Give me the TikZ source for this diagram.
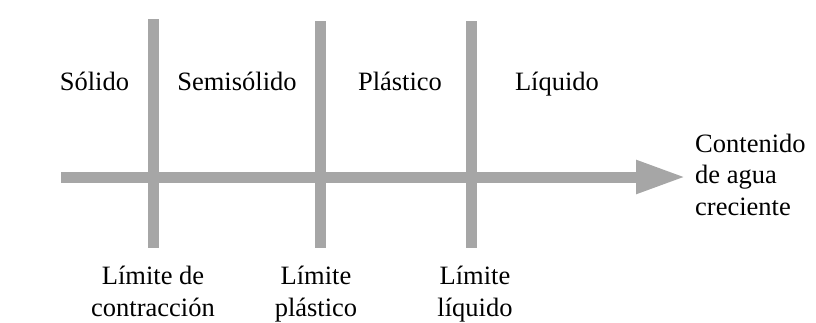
\documentclass[tikz,border=0pt]{standalone}
\usepackage{fontspec}
\setmainfont{Liberation Serif}
\usetikzlibrary{arrows.meta}
\tikzset{
  zone/.style={font=\fontsize{26.5}{31.5}\selectfont, anchor=base, inner sep=0pt},
  limit/.style={zone, align=center},
  bar/.style={draw=black!35, line width=11pt},
}

\begin{document}
\begin{tikzpicture}[x=1pt,y=-1pt]
\useasboundingbox (0,0) rectangle (816,322);
% limits between states
\coordinate (contrtop) at (153,19);
\coordinate (contrbot) at (153,248);
\coordinate (plasttop) at (320,21);
\coordinate (plastbot) at (320,248);
\coordinate (liqtop) at (471,21);
\coordinate (liqbot) at (471,248);
\draw[bar] (contrtop) -- (contrbot);
\draw[bar] (plasttop) -- (plastbot);
\draw[bar] (liqtop) -- (liqbot);
% water content axis
\coordinate (axstart) at (61,177);
\coordinate (axend) at (686,177);
\draw[bar, -{Triangle[length=50pt,width=31pt]}] (axstart) -- (axend);
% states
\node[zone] (solido) at (94.5,90) {Sólido};
\node[zone] (semisolido) at (237,90) {Semisólido};
\node[zone] (plastico) at (400,90) {Plástico};
\node[zone] (liquido) at (557,90) {Líquido};
% limit names (base = last line)
\node[limit] (lcontr) at (153,316) {Límite de\\contracción};
\node[limit] (lplast) at (316,316) {Límite\\plástico};
\node[limit] (lliq) at (475,316) {Límite\\líquido};
\node[zone, anchor=base west, align=left] (agua) at (695,215) {Contenido\\de agua\\creciente};
\end{tikzpicture}
\end{document}
